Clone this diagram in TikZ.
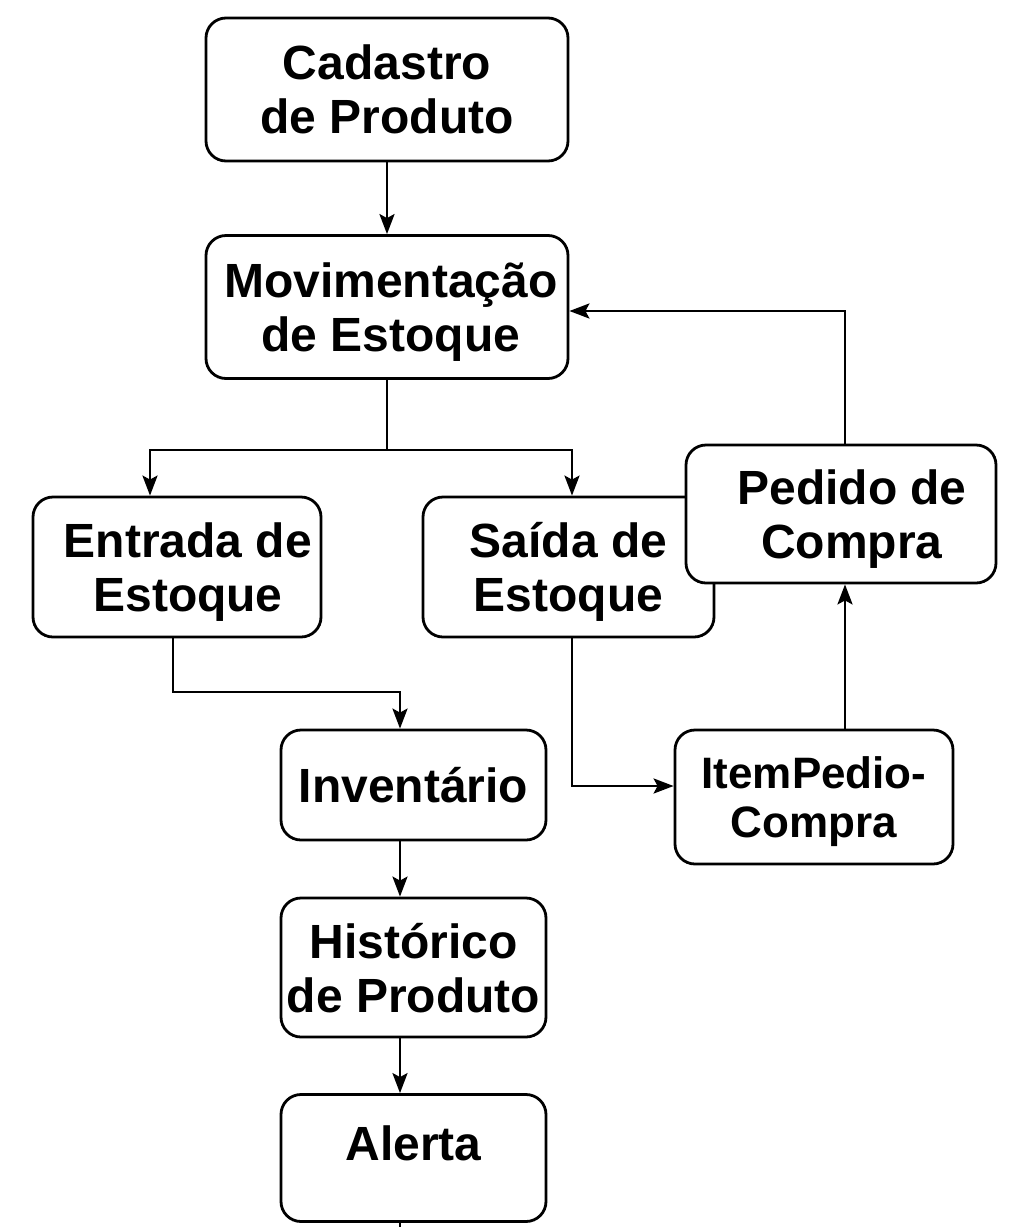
\documentclass[tikz,border=0pt]{standalone}
\usepackage{fontspec}
\setmainfont{Liberation Sans}
\usetikzlibrary{positioning,arrows.meta}

\begin{document}
\begin{tikzpicture}[x=1pt,y=-1pt,>={Stealth[length=20pt,width=15pt,inset=4pt]},line width=2.8pt]
\tikzstyle{box}=[draw,fill=white,rounded corners=20pt,align=center,inner sep=0pt,text depth=0pt,font=\bfseries\fontsize{48}{54}\selectfont]
\tikzstyle{wide}=[box,minimum width=362pt,minimum height=143pt]
\tikzstyle{narrow}=[box,minimum width=265pt]
\useasboundingbox (0,0) rectangle (1024,1227);
% upper chain
\node[wide] (cad) at (387,89.5) {Cadastro\\de Produto};
\node[wide] (mov) at (387,307) {\hspace*{8pt}Movimenta\c{c}\~ao\\\hspace*{8pt}de Estoque};
% two branches
\node[box,minimum width=288pt,minimum height=140pt] (ent) at (177,567) {\hspace*{22pt}Entrada de\\\hspace*{22pt}Estoque};
\node[box,minimum width=291pt,minimum height=140pt] (sai) at (568.5,567) {Sa\'ida de\\Estoque};
\node[box,minimum width=310pt,minimum height=138pt] (ped) at (841,514) {\hspace*{22pt}Pedido de\\\hspace*{22pt}Compra};
\node[box,minimum width=278pt,minimum height=134pt,font=\bfseries\fontsize{44}{49}\selectfont] (item) at (814,797) {ItemPedio-\\Compra};
% lower chain
\node[narrow,minimum height=110pt] (inv) at (413.5,785) {Invent\'ario};
\node[narrow,minimum height=139pt] (hist) at (413.5,967.5) {Hist\'orico\\de Produto};
\node[narrow,minimum height=127pt,text depth=30pt] (alert) at (413.5,1158) {Alerta};
\coordinate (split) at (387,450);
\coordinate (out) at (400,1240);
\draw[->] (cad) -- (mov);
\draw (mov.south) -- (split);
\draw[->] (split) -| ([xshift=-27pt]ent.north);
\draw[->] (split) -| ([xshift=3.5pt]sai.north);
\draw[->] ([xshift=4pt]ped.north) |- ([yshift=-4pt]mov.east);
\draw[->] ([xshift=-4pt]ent.south) |- (400,692) -- ([xshift=-13.5pt]inv.north);
\draw[->] ([xshift=3.5pt]sai.south) |- ([yshift=11pt]item.west);
\draw[->] (item.north -| 845,0) -- ([xshift=4pt]ped.south);
\draw[->] ([xshift=-13.5pt]inv.south) -- ([xshift=-13.5pt]hist.north);
\draw[->] ([xshift=-13.5pt]hist.south) -- ([xshift=-13.5pt]alert.north);
\draw ([xshift=-13.5pt]alert.south) -- (out);
\end{tikzpicture}
\end{document}
